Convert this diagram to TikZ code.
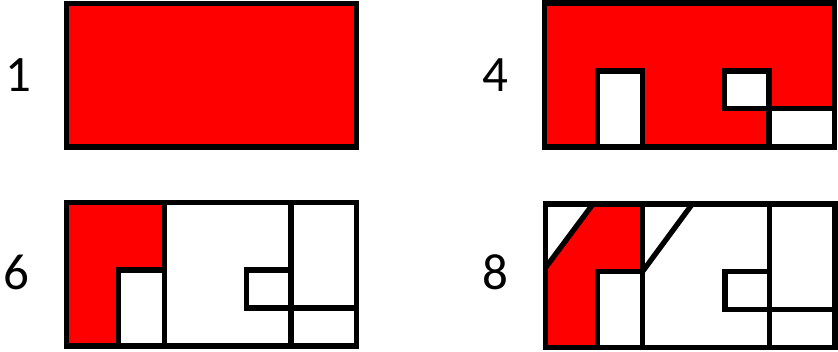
\documentclass[tikz,border=0pt]{standalone}
\usepackage{fontspec}
\setmainfont{Carlito}
\begin{document}
\begin{tikzpicture}[x=1pt,y=-1pt,every node/.style={font=\fontsize{51}{51}\selectfont,inner sep=0pt}]
\tikzset{cell/.style={draw,line width=5.3pt,line join=miter},hot/.style={fill=red}}
\useasboundingbox (0,0) rectangle (838,351);
% Step labels
\node (n1) at (18,75) {1};
\node (n4) at (495,75) {4};
\node (n6) at (16.5,272) {6};
\node (n8) at (495,272) {8};
% step 1: whole block red
\draw[cell,hot] (66.3,3.3) rectangle (356.3,147);
% step 4
\begin{scope}[shift={(544.7,3)}]
\fill[red] (0,0) rectangle (290,144);
\draw[cell,fill=white] (53,68) rectangle (97.6,144);
\draw[cell,fill=white] (179.6,68) rectangle (224.3,105.7);
\draw[cell,fill=white] (224.3,105.7) rectangle (290,144);
\draw[cell] (0,0) rectangle (290,144);
\end{scope}
% step 6
\begin{scope}[shift={(66.3,202.7)}]
\fill[red] (0,0) -- (98.4,0) -- (98.4,67.3) -- (52.4,67.3) -- (52.4,143.3) -- (0,143.3) -- cycle;
\draw[cell] (98.4,0) -- (98.4,143.3);
\draw[cell] (224.7,0) -- (224.7,143.3);
\draw[cell] (52.4,67.3) rectangle (98.4,143.3);
\draw[cell] (180,67.3) rectangle (224.7,105.3);
\draw[cell] (224.7,105.3) -- (290,105.3);
\draw[cell] (0,0) rectangle (290,143.3);
\end{scope}
% step 8: corners cut off
\begin{scope}[shift={(545.3,204)}]
\fill[red] (0,64) -- (47.7,0) -- (97.4,0) -- (97.4,67.3) -- (52.4,67.3) -- (52.4,143.3) -- (0,143.3) -- cycle;
\draw[cell] (0,64) -- (47.7,0);
\draw[cell] (97.4,67.3) -- (147,0);
\draw[cell] (97.4,0) -- (97.4,143.3);
\draw[cell] (224.4,0) -- (224.4,143.3);
\draw[cell] (52.4,67.3) rectangle (97.4,143.3);
\draw[cell] (179.7,67.3) rectangle (224.4,105.3);
\draw[cell] (224.4,105.3) -- (289.7,105.3);
\draw[cell] (0,0) rectangle (289.7,143.3);
\end{scope}
\end{tikzpicture}
\end{document}
